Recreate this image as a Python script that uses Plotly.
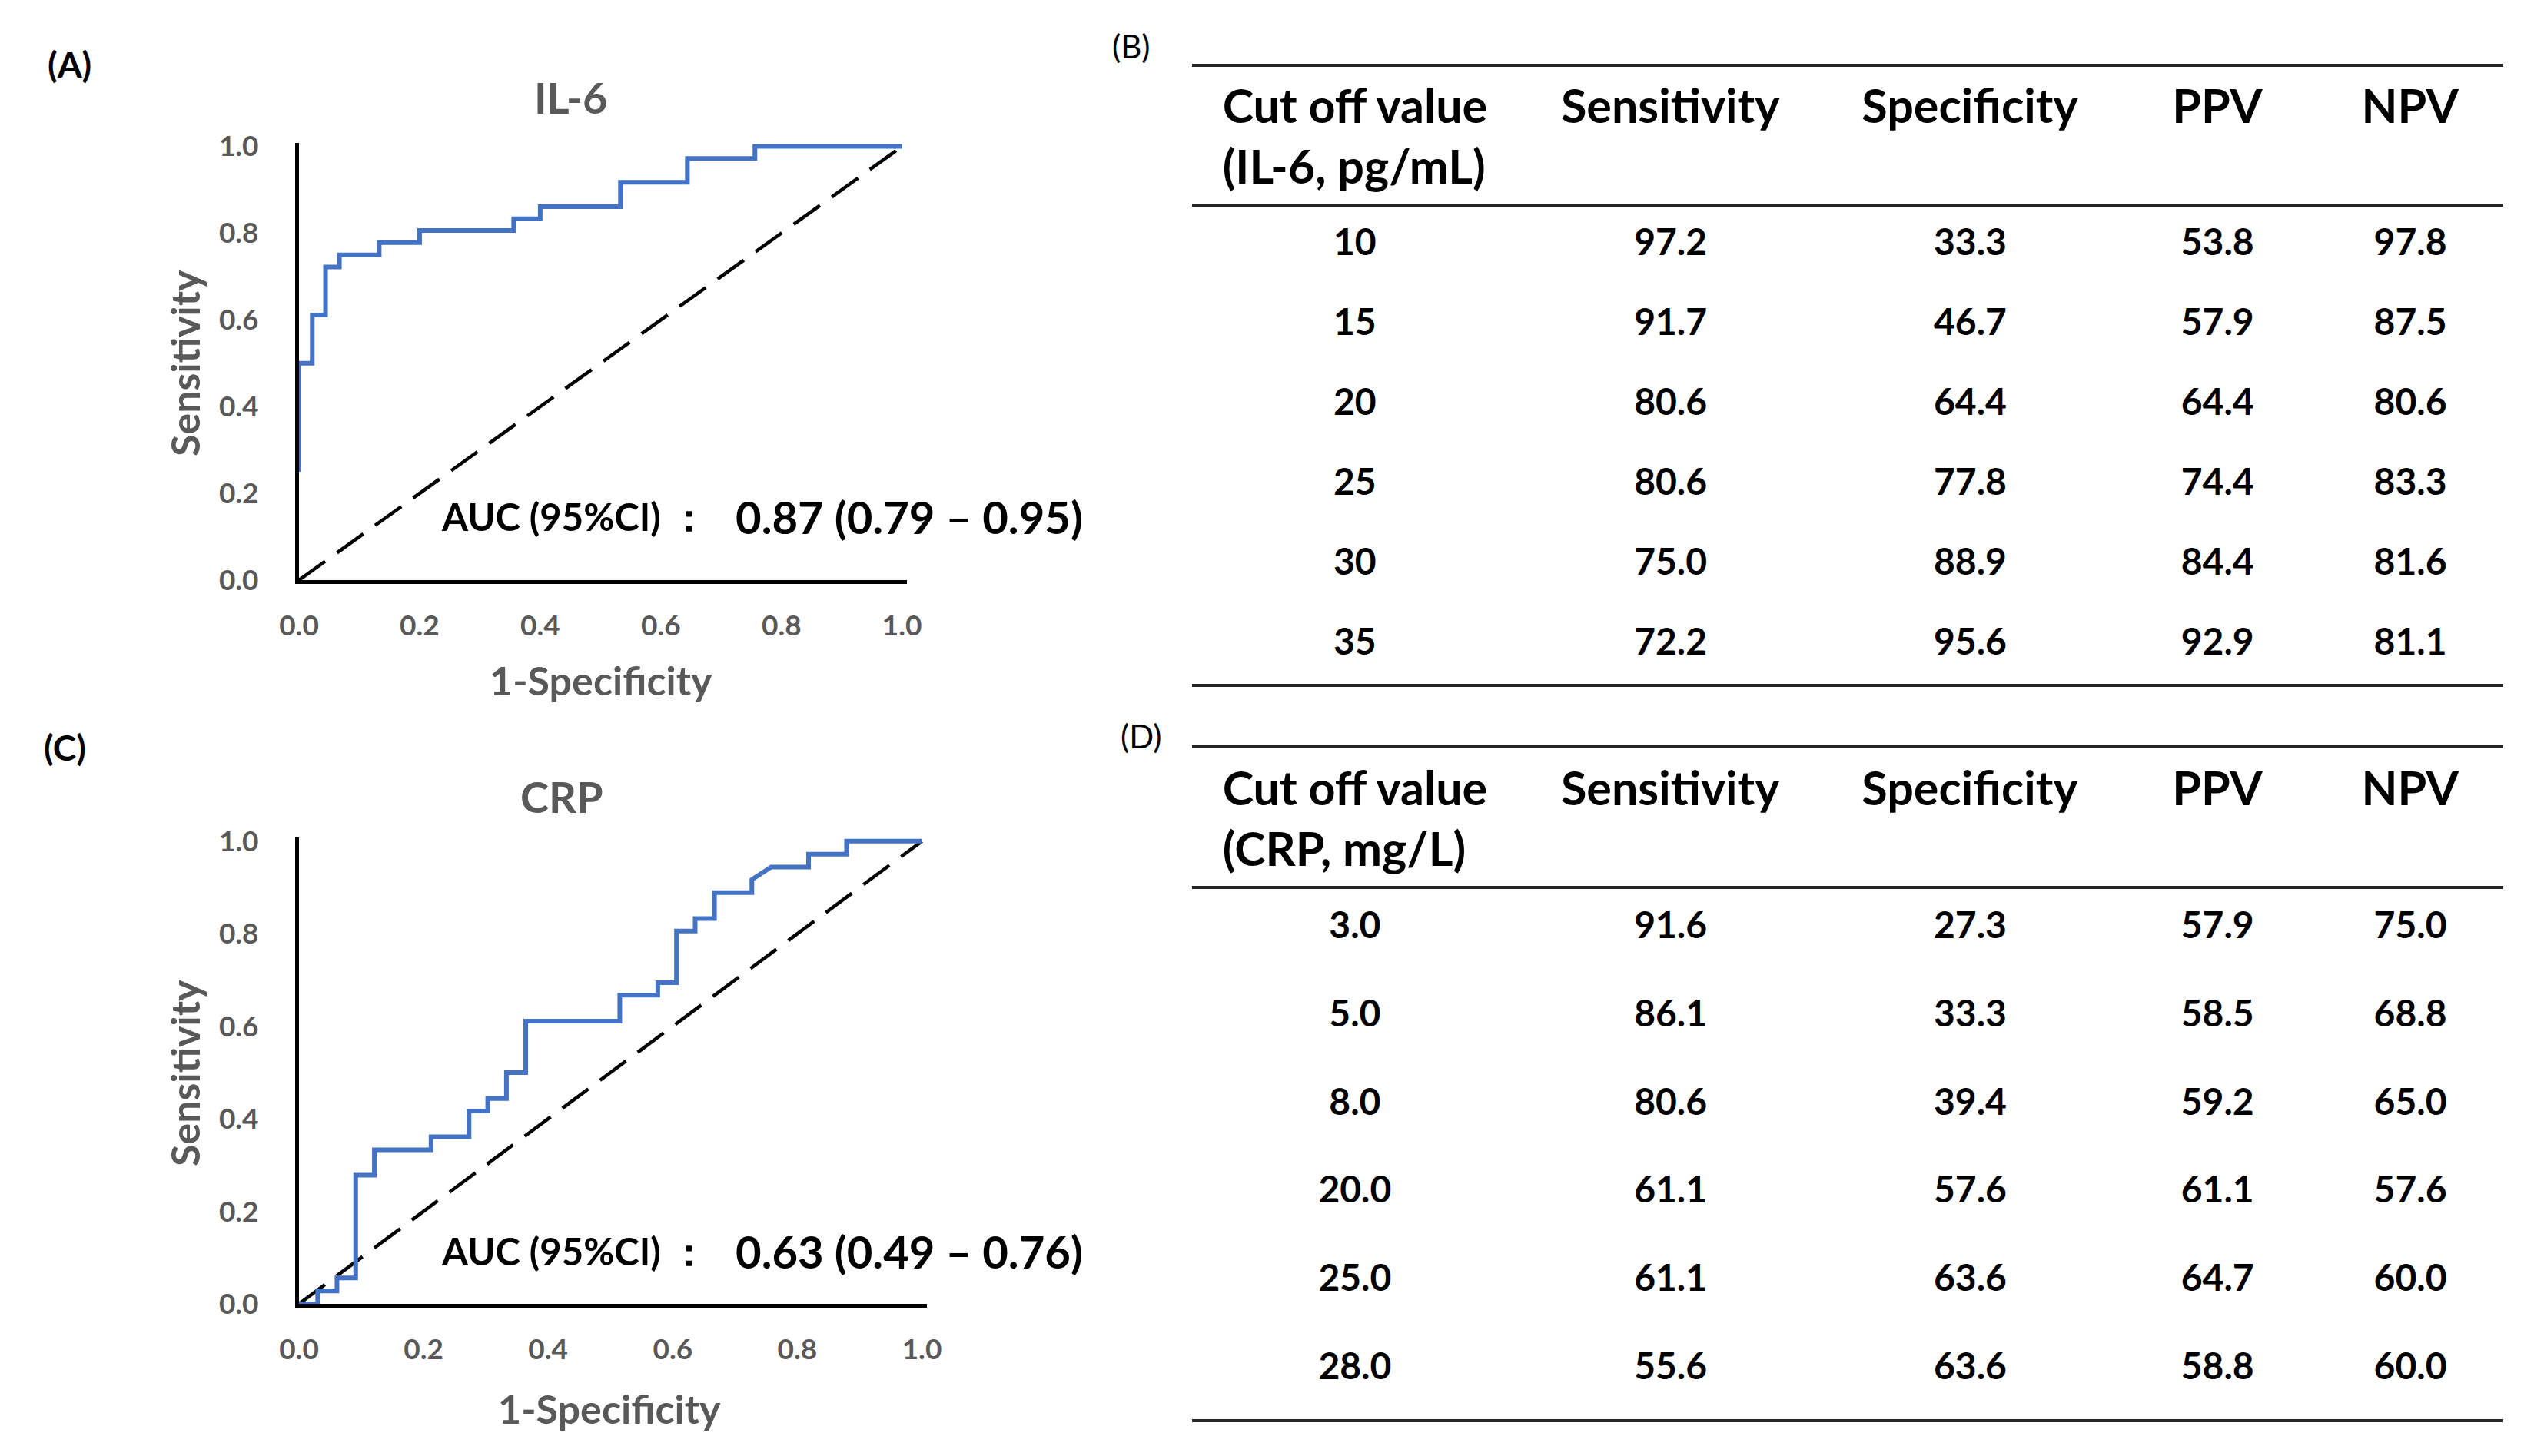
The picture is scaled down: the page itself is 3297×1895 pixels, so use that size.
import plotly.graph_objects as go

W, H = 3297, 1895

# ---------------- ROC data ----------------
il6_fpr = [0.0, 0.0, 0.022, 0.022, 0.044, 0.044, 0.067, 0.067, 0.133, 0.133, 0.2, 0.2,
           0.356, 0.356, 0.4, 0.4, 0.533, 0.533, 0.644, 0.644, 0.756, 0.756, 1.0]
il6_tpr = [0.25, 0.5, 0.5, 0.611, 0.611, 0.722, 0.722, 0.75, 0.75, 0.778, 0.778, 0.806,
           0.806, 0.833, 0.833, 0.861, 0.861, 0.917, 0.917, 0.972, 0.972, 1.0, 1.0]

crp_fpr = [0.0, 0.03, 0.03, 0.061, 0.061, 0.091, 0.091, 0.121, 0.121, 0.212, 0.212, 0.273,
           0.273, 0.303, 0.303, 0.333, 0.333, 0.364, 0.364, 0.515, 0.515, 0.576, 0.576,
           0.606, 0.606, 0.636, 0.636, 0.667, 0.667, 0.727, 0.727, 0.758, 0.818, 0.818,
           0.879, 0.879, 1.0]
crp_tpr = [0.0, 0.0, 0.028, 0.028, 0.056, 0.056, 0.278, 0.278, 0.333, 0.333, 0.361, 0.361,
           0.417, 0.417, 0.444, 0.444, 0.5, 0.5, 0.611, 0.611, 0.667, 0.667, 0.694, 0.694,
           0.806, 0.806, 0.833, 0.833, 0.889, 0.889, 0.917, 0.944, 0.944, 0.972, 0.972,
           1.0, 1.0]

ref_x = [0.0, 1.0]
ref_y = [0.0, 1.0]

axis_ticks = [0.0, 0.2, 0.4, 0.6, 0.8, 1.0]

il6_auc_label = "AUC (95%CI) ："
il6_auc_value = "0.87 (0.79 – 0.95)"
crp_auc_label = "AUC (95%CI) ："
crp_auc_value = "0.63 (0.49 – 0.76)"

# ---------------- Table data ----------------
metric_names = ["Sensitivity", "Specificity", "PPV", "NPV"]

il6_cut_header = "Cut off value<br>(IL-6, pg/mL)"
il6_cutoff = [10, 15, 20, 25, 30, 35]
il6_sens = [97.2, 91.7, 80.6, 80.6, 75.0, 72.2]
il6_spec = [33.3, 46.7, 64.4, 77.8, 88.9, 95.6]
il6_ppv = [53.8, 57.9, 64.4, 74.4, 84.4, 92.9]
il6_npv = [97.8, 87.5, 80.6, 83.3, 81.6, 81.1]

crp_cut_header = "Cut off value<br>(CRP, mg/L)"
crp_cutoff = [3.0, 5.0, 8.0, 20.0, 25.0, 28.0]
crp_sens = [91.6, 86.1, 80.6, 61.1, 61.1, 55.6]
crp_spec = [27.3, 33.3, 39.4, 57.6, 63.6, 63.6]
crp_ppv = [57.9, 58.5, 59.2, 61.1, 64.7, 58.8]
crp_npv = [75.0, 68.8, 65.0, 57.6, 60.0, 60.0]

# ---------------- styling ----------------
FONT = "Lato"
GRAY = "#595959"
BLUE = "#4472C4"


def px(x):
    return x / W


def py(y):
    return 1 - y / H


fig = go.Figure()

# ROC curves
for fpr, tpr, xa, ya in [(il6_fpr, il6_tpr, "x", "y"), (crp_fpr, crp_tpr, "x2", "y2")]:
    fig.add_trace(go.Scatter(x=ref_x, y=ref_y, mode="lines", xaxis=xa, yaxis=ya,
                             line=dict(color="black", width=4.5, dash="42px,19px"),
                             showlegend=False, hoverinfo="skip"))
    fig.add_trace(go.Scatter(x=fpr, y=tpr, mode="lines", xaxis=xa, yaxis=ya,
                             line=dict(color=BLUE, width=6), showlegend=False))

# Tables
col_widths = [424, 398, 382, 262, 240]
tables = [
    (il6_cut_header, [il6_cutoff, il6_sens, il6_spec, il6_ppv, il6_npv],
     [".0f", ".1f", ".1f", ".1f", ".1f"], 92, 196, 104, 930),
    (crp_cut_header, [crp_cutoff, crp_sens, crp_spec, crp_ppv, crp_npv],
     [".1f", ".1f", ".1f", ".1f", ".1f"], 980, 197, 114.8, 1895),
]
for head, cols, fmts, top, hh, ch, bottom in tables:
    header_vals = [head] + [m + "<br>\u00a0" for m in metric_names]
    fig.add_trace(go.Table(
        domain=dict(x=[px(1551), px(3257)], y=[py(bottom), py(top)]),
        columnwidth=col_widths,
        header=dict(values=header_vals, align="center", height=hh,
                    font=dict(family=FONT, size=61, color="black", weight="bold"),
                    fill=dict(color="white"), line=dict(width=0, color="rgba(0,0,0,0)")),
        cells=dict(values=cols, format=fmts, align="center", height=ch,
                   font=dict(family=FONT, size=48, color="black", weight="bold"),
                   fill=dict(color="white"), line=dict(width=0, color="rgba(0,0,0,0)")),
    ))

axis_common = dict(range=[0, 1.008], tickvals=axis_ticks, tickformat=".1f", ticks="",
                   showgrid=False, zeroline=False, showline=True, linecolor="black",
                   linewidth=5, layer="below traces", automargin=False,
                   tickfont=dict(family=FONT, size=37, color=GRAY, weight="bold"),
                   fixedrange=True)
xaxis_common = dict(axis_common, ticklabelstandoff=23)
yaxis_common = dict(axis_common, ticklabelstandoff=40)

fig.update_layout(
    width=W, height=H,
    margin=dict(l=0, r=0, t=0, b=0, pad=0, autoexpand=False),
    paper_bgcolor="white", plot_bgcolor="white",
    xaxis=dict(domain=[px(389), px(1180)], anchor="y", **xaxis_common),
    yaxis=dict(domain=[py(755), py(186)], anchor="x", **yaxis_common),
    xaxis2=dict(domain=[px(389), px(1206)], anchor="y2", **xaxis_common),
    yaxis2=dict(domain=[py(1697), py(1090)], anchor="x2", **yaxis_common),
)

ann = []


def add_text(text, x, y, size, color="black", bold=True, xanchor="center", angle=0):
    ann.append(dict(text=text, x=px(x), y=py(y), xref="paper", yref="paper",
                    xanchor=xanchor, yanchor="middle", showarrow=False, textangle=angle,
                    font=dict(family=FONT, size=size, color=color,
                              weight="bold" if bold else "normal")))


# panel labels
add_text("(A)", 90, 84, 46)
add_text("(C)", 84, 973, 46)
add_text("(B)", 1472, 60, 42, bold=False)
add_text("(D)", 1485, 958, 42, bold=False)
# chart titles
add_text("IL-6", 742, 126, 56, GRAY)
add_text("CRP", 731, 1036, 56, GRAY)
# axis titles
add_text("Sensitivity", 240, 472, 52, GRAY, angle=-90)
add_text("Sensitivity", 240, 1396, 52, GRAY, angle=-90)
add_text("1-Specificity", 782, 885, 52, GRAY)
add_text("1-Specificity", 793, 1833, 52, GRAY)
# AUC
add_text(il6_auc_label, 572, 672, 49, xanchor="left")
add_text(il6_auc_value, 955, 672, 58, xanchor="left")
add_text(crp_auc_label, 572, 1628, 49, xanchor="left")
add_text(crp_auc_value, 955, 1628, 58, xanchor="left")

fig.update_layout(annotations=ann)

# table rules
shapes = []
for yline in [85, 267, 892, 972, 1155, 1849]:
    shapes.append(dict(type="line", xref="paper", yref="paper", x0=px(1551), x1=px(3257),
                       y0=py(yline), y1=py(yline), line=dict(color="#262626", width=4)))
fig.update_layout(shapes=shapes)

fig.write_html("out.html", config={"displayModeBar": False},
               post_script="document.body.style.margin='0';document.body.style.padding='0';")
